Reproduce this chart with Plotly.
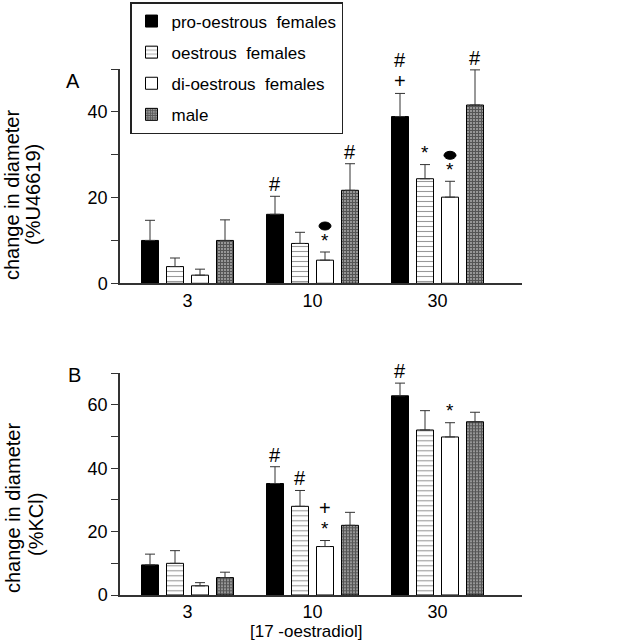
import plotly.graph_objects as go

# ---------------- data ----------------
doses = ["3", "10", "30"]
series_names = ["pro-oestrous\u00a0\u00a0females", "oestrous\u00a0\u00a0females",
                "di-oestrous\u00a0\u00a0females", "male"]

# Panel A: change in diameter (%U46619)
a_pro = [10.0, 16.1, 38.9]
a_oes = [3.9, 9.3, 24.4]
a_dio = [1.9, 5.4, 20.1]
a_male = [10.0, 21.7, 41.6]
a_pro_err = [4.7, 4.2, 5.4]
a_oes_err = [2.0, 2.6, 3.3]
a_dio_err = [1.4, 1.9, 3.7]
a_male_err = [4.8, 6.2, 8.2]

# Panel B: change in diameter (%KCl)
b_pro = [9.5, 35.2, 62.9]
b_oes = [10.0, 28.0, 52.1]
b_dio = [2.9, 15.3, 49.9]
b_male = [5.5, 22.0, 54.7]
b_pro_err = [3.4, 5.3, 4.0]
b_oes_err = [4.0, 5.0, 6.1]
b_dio_err = [1.0, 1.9, 4.5]
b_male_err = [1.7, 4.1, 3.0]

# significance symbols, stacked from bottom to top ("o" = filled ellipse)
a_pro_sig = ["", "#", "+#"]
a_oes_sig = ["", "", "*"]
a_dio_sig = ["", "*o", "*o"]
a_male_sig = ["", "#", "#"]
b_pro_sig = ["", "#", "#"]
b_oes_sig = ["", "#", ""]
b_dio_sig = ["", "*+", "*"]
b_male_sig = ["", "", ""]

# ---------------- styling ----------------
FONT = "Liberation Sans, Arial, sans-serif"
W, H = 632, 640
styles = [
    dict(color="black", pattern=None),
    dict(color="white", pattern=dict(shape="-", size=5, solidity=0.22, fgcolor="#333", bgcolor="white")),
    dict(color="white", pattern=None),
    dict(color="#444", pattern=dict(shape="+", size=3, solidity=0.6, fgcolor="#111", bgcolor="#999")),
]

fig = go.Figure()

panels = [
    ("x", "y", [a_pro, a_oes, a_dio, a_male], [a_pro_err, a_oes_err, a_dio_err, a_male_err], True),
    ("x2", "y2", [b_pro, b_oes, b_dio, b_male], [b_pro_err, b_oes_err, b_dio_err, b_male_err], False),
]
for xa, ya, vals, errs, show in panels:
    for i, (name, v, e, st) in enumerate(zip(series_names, vals, errs, styles)):
        marker = dict(color=st["color"], line=dict(color="black", width=1))
        if st["pattern"]:
            marker["pattern"] = st["pattern"]
        fig.add_trace(go.Bar(
            x=doses, y=v, name=name, xaxis=xa, yaxis=ya, marker=marker,
            legendgroup=f"g{i}", showlegend=show,
            error_y=dict(type="data", array=e, arrayminus=[0] * len(e), symmetric=False,
                         color="#333", thickness=1, width=5),
        ))

# significance annotations
sig_sets = [
    ("x", "y", [a_pro_sig, a_oes_sig, a_dio_sig, a_male_sig],
     [a_pro, a_oes, a_dio, a_male], [a_pro_err, a_oes_err, a_dio_err, a_male_err]),
    ("x2", "y2", [b_pro_sig, b_oes_sig, b_dio_sig, b_male_sig],
     [b_pro, b_oes, b_dio, b_male], [b_pro_err, b_oes_err, b_dio_err, b_male_err]),
]
annotations = []
shapes = []
for xa, ya, sigs, vals, errs in sig_sets:
    for si, (sig, v, e) in enumerate(zip(sigs, vals, errs)):
        for ci, s in enumerate(sig):
            if not s:
                continue
            xpos = ci - 0.3 + 0.2 * si
            top = v[ci] + e[ci]
            off = 14  # visible centre of symbol, pixels above error-bar cap
            for k, ch in enumerate(s):
                if ch == "o":
                    off -= 9
                    shapes.append(dict(type="circle", xref=xa, yref=ya, xsizemode="pixel",
                                       ysizemode="pixel", xanchor=xpos, yanchor=top,
                                       x0=-6, x1=6, y0=off - 4, y1=off + 4,
                                       fillcolor="black", line=dict(color="black", width=1)))
                else:
                    annotations.append(dict(x=xpos, y=top, xref=xa, yref=ya, text=ch,
                                            showarrow=False, yshift=off - 2,
                                            font=dict(size=20 if ch != "*" else 19, color="black", family=FONT)))
                off += 21


def px(p):
    return p / W


def py(p):
    return 1 - p / H


def label(x, y, text, size=20, angle=0):
    return dict(x=px(x), y=py(y), xref="paper", yref="paper", text=text, textangle=angle,
                xanchor="center", yanchor="middle", showarrow=False,
                font=dict(size=size, family=FONT, color="black"))


annotations += [
    label(73, 81, "A"),
    label(74, 375, "B"),
    label(12, 195, "change in diameter", angle=-90),
    label(33, 195, "(%U46619)", angle=-90),
    label(13, 508, "change in diameter", angle=-90),
    label(36, 525, "(%KCl)", angle=-90),
    label(306, 631, "[17 -oestradiol]", size=17),
]

xdom = [px(120), px(522)]
xcommon = dict(domain=xdom, range=[-0.54, 2.676], showline=True, linecolor="#333", linewidth=1.5,
               ticks="", tickfont=dict(size=18, family=FONT, color="black"), showgrid=False,
               zeroline=False, fixedrange=True)
ycommon = dict(showline=True, linecolor="#333", linewidth=1.5, ticks="outside", ticklen=7,
               tickcolor="#333", tickfont=dict(size=18, family=FONT, color="black"),
               showgrid=False, zeroline=False)

fig.update_layout(
    width=W, height=H, margin=dict(l=0, r=0, t=0, b=0, autoexpand=False),
    paper_bgcolor="white", plot_bgcolor="white",
    barmode="group", bargap=0.2, bargroupgap=0.32,
    font=dict(family=FONT, color="black"),
    xaxis=dict(anchor="y", **xcommon),
    xaxis2=dict(anchor="y2", ticklabelstandoff=0, **xcommon),
    yaxis=dict(anchor="x", domain=[py(283.3), py(69)], range=[0, 50],
               tickvals=[0, 10, 20, 30, 40, 50], ticktext=["0", "", "20", "", "40", ""], **ycommon),
    yaxis2=dict(anchor="x2", domain=[py(595), py(373.3)], range=[0, 70],
                tickvals=[0, 10, 20, 30, 40, 50, 60, 70],
                ticktext=["0", "", "20", "", "40", "", "60", ""], **ycommon),
    legend=dict(x=px(130), y=py(2), xanchor="left", yanchor="top",
                bordercolor="#222", borderwidth=1.5, bgcolor="white",
                font=dict(size=17, family=FONT, color="black"),
                tracegroupgap=6, traceorder="grouped"),
    annotations=annotations, shapes=shapes,
)

fig.write_html("out.html", config={"displayModeBar": False},
               post_script="document.body.style.margin='0';")
